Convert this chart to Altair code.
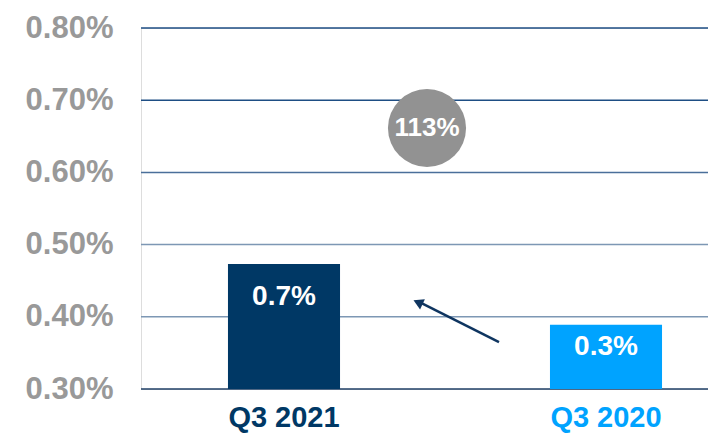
import altair as alt
import pandas as pd

categories = ["Q3 2021", "Q3 2020"]
values = [0.00473, 0.00389]
bar_labels = ["0.7%", "0.3%"]
colors = ["#003865", "#00A3FF"]
growth_label = ["113%"]
growth_level = [0.006615]
arrow_from = [0.00365]
arrow_to = [0.00420]
grid_values = [0.003, 0.004, 0.005, 0.006, 0.007, 0.008]
grid_colors = ["#1F3F66", "#7D97B4", "#7D97B4", "#4A6F9A", "#1E4E84", "#1E4E84"]

df = pd.DataFrame({"cat": categories, "value": values, "label": bar_labels, "color": colors})
circ = pd.DataFrame({"cat": [categories[0]], "y": growth_level, "label": growth_label})
grid = pd.DataFrame({"value": grid_values, "color": grid_colors})

FONT = "Liberation Sans"

x = alt.X("cat:N", sort=categories, title=None,
          scale=alt.Scale(range=[-18, 626], paddingInner=0.652, paddingOuter=0.326),
          axis=alt.Axis(labelAngle=0, labelFontSize=29, labelFontWeight="bold", labelFont=FONT,
                        labelPadding=14, ticks=False, domain=False, grid=False,
                        labelColor=alt.ExprRef("datum.value == 'Q3 2021' ? '#003865' : '#00A3FF'")))
yscale = alt.Scale(domain=[0.003, 0.008], nice=False, zero=False)
y_axis = alt.Axis(values=grid_values, format=".2%",
                  labelFontSize=31, labelFontWeight="bold", labelFont=FONT, labelColor="#999999",
                  labelPadding=28, ticks=False, domain=False, grid=False)

gridlines = alt.Chart(grid).mark_rule(strokeWidth=1.5).encode(
    y=alt.Y("value:Q", scale=yscale, title=None, axis=y_axis),
    color=alt.Color("color:N", scale=None),
)

bars = alt.Chart(df).mark_bar().encode(
    x=x, y=alt.Y("value:Q", scale=yscale), y2=alt.datum(0.003),
    color=alt.Color("color:N", scale=None),
)

labels = alt.Chart(df).transform_calculate(
    ly="datum.value - 0.00015 - (datum.value - 0.003) * 0.18"
).mark_text(color="white", fontSize=28, fontWeight="bold", font=FONT).encode(
    x=alt.X("cat:N", sort=categories), y=alt.Y("ly:Q", scale=yscale), text="label:N"
)

circle = alt.Chart(circ).mark_circle(size=6100, color="#929292", opacity=1, xOffset=143).encode(
    x=alt.X("cat:N", sort=categories), y=alt.Y("y:Q", scale=yscale)
)
circle_text = alt.Chart(circ).mark_text(color="white", fontSize=26, fontWeight="bold", font=FONT, dx=143).encode(
    x=alt.X("cat:N", sort=categories), y=alt.Y("y:Q", scale=yscale), text="label:N"
)

arr = pd.DataFrame({"cat": [categories[0]], "y1": arrow_from, "y2": arrow_to})
arrow_line = alt.Chart(arr).mark_rule(color="#0F3560", strokeWidth=2.5).encode(
    x=alt.value(358), x2=alt.value(279),
    y=alt.Y("y1:Q", scale=yscale), y2="y2:Q"
)
arrow_head = alt.Chart(arr).mark_point(shape="triangle-up", size=130, filled=True, color="#0F3560",
                                       opacity=1, angle=295).encode(
    x=alt.value(277), y=alt.Y("y2:Q", scale=yscale)
)

chart = alt.layer(gridlines, bars, labels, circle, circle_text, arrow_line, arrow_head).properties(
    width=567, height=361,
    autosize=alt.AutoSizeParams(type="none"),
    padding={"left": 133, "top": 20, "right": 0, "bottom": 46},
).configure_view(stroke=None).configure(background="white")

chart.save("out.html", embed_options={"renderer": "svg", "actions": False})
